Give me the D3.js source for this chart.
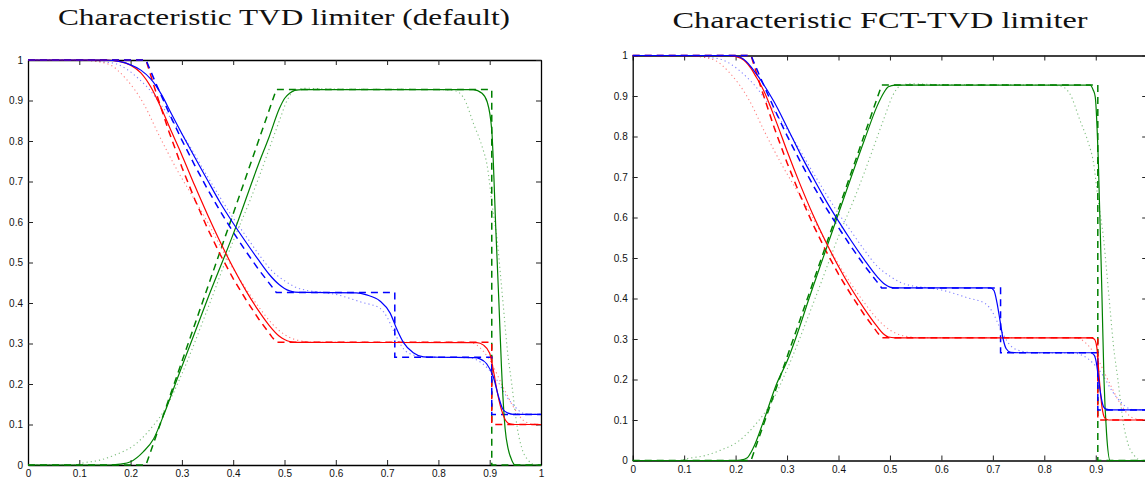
<!DOCTYPE html>
<html><head><meta charset="utf-8">
<script src="https://cdn.jsdelivr.net/npm/d3@7"></script>
<style>
html,body{margin:0;padding:0;background:#fff;}
svg{display:block;}
</style></head>
<body>
<svg id="chart" width="1145" height="482"></svg>
<script>
// ---------- data ----------
const titles = ["Characteristic TVD limiter (default)", "Characteristic FCT-TVD limiter"];
const xTicks = [0,0.1,0.2,0.3,0.4,0.5,0.6,0.7,0.8,0.9,1];
const yTicks = [0,0.1,0.2,0.3,0.4,0.5,0.6,0.7,0.8,0.9,1];
const xTickLabels = ["0","0.1","0.2","0.3","0.4","0.5","0.6","0.7","0.8","0.9","1"];
const yTickLabels = ["0","0.1","0.2","0.3","0.4","0.5","0.6","0.7","0.8","0.9","1"];

// exact solution (dashed)
const exactRho = [[0,1],[0.23,1],[0.25,0.940],[0.275,0.869],[0.3,0.802],[0.325,0.740],[0.35,0.681],[0.375,0.626],[0.4,0.575],[0.425,0.527],[0.45,0.482],[0.475,0.441],[0.484,0.426],[0.715,0.426],[0.715,0.266],[0.904,0.266],[0.904,0.125],[1,0.125]];
const exactP = [[0,1],[0.23,1],[0.25,0.918],[0.275,0.822],[0.3,0.735],[0.325,0.656],[0.35,0.584],[0.375,0.519],[0.4,0.460],[0.425,0.408],[0.45,0.360],[0.475,0.317],[0.484,0.303],[0.904,0.303],[0.904,0.1],[1,0.1]];
const exactU = [[0,0],[0.23,0],[0.484,0.927],[0.904,0.927],[0.904,0],[1,0]];

// reference scheme (dotted), same in both panels
const refRho = [[0,1],[0.1,1],[0.127,0.998],[0.15,0.995],[0.173,0.99],[0.195,0.975],[0.218,0.951],[0.24,0.922],[0.257,0.893],[0.283,0.848],[0.309,0.8],[0.35,0.712],[0.4,0.61],[0.425,0.565],[0.45,0.52],[0.475,0.48],[0.5,0.455],[0.52,0.44],[0.54,0.432],[0.57,0.427],[0.6,0.421],[0.65,0.402],[0.686,0.387],[0.7,0.365],[0.712,0.333],[0.732,0.287],[0.75,0.272],[0.78,0.266],[0.86,0.265],[0.875,0.259],[0.895,0.24],[0.914,0.21],[0.933,0.169],[0.949,0.144],[0.965,0.128],[0.98,0.125],[1,0.125]];
const refP = [[0,1],[0.1,1],[0.13,0.997],[0.16,0.988],[0.19,0.955],[0.225,0.893],[0.257,0.81],[0.29,0.73],[0.32,0.665],[0.35,0.6],[0.375,0.54],[0.4,0.485],[0.425,0.435],[0.45,0.39],[0.475,0.35],[0.5,0.322],[0.52,0.31],[0.54,0.305],[0.56,0.303],[0.86,0.303],[0.875,0.296],[0.9,0.259],[0.926,0.193],[0.946,0.144],[0.965,0.111],[0.98,0.102],[1,0.1]];
const refU = [[0,0],[0.09,0],[0.107,0.005],[0.14,0.012],[0.17,0.025],[0.205,0.047],[0.238,0.088],[0.27,0.144],[0.3,0.225],[0.35,0.385],[0.4,0.553],[0.433,0.654],[0.45,0.71],[0.47,0.78],[0.49,0.85],[0.505,0.9],[0.52,0.925],[0.54,0.93],[0.6,0.928],[0.8,0.927],[0.83,0.925],[0.849,0.907],[0.869,0.841],[0.886,0.783],[0.895,0.74],[0.905,0.64],[0.915,0.55],[0.921,0.47],[0.928,0.372],[0.934,0.289],[0.943,0.2],[0.954,0.09],[0.963,0.04],[0.975,0.012],[0.99,0],[1,0]];

// TVD limiter (solid, left)
const tvdRho = [[0,1],[0.15,1],[0.18,0.996],[0.2,0.988],[0.22,0.975],[0.24,0.952],[0.26,0.915],[0.28,0.866],[0.3,0.818],[0.325,0.76],[0.35,0.703],[0.375,0.647],[0.4,0.597],[0.425,0.55],[0.45,0.505],[0.47,0.471],[0.49,0.445],[0.5,0.436],[0.51,0.43],[0.52,0.427],[0.54,0.426],[0.64,0.425],[0.66,0.42],[0.686,0.405],[0.706,0.375],[0.719,0.335],[0.732,0.302],[0.751,0.277],[0.771,0.267],[0.8,0.266],[0.87,0.265],[0.881,0.262],[0.894,0.25],[0.907,0.218],[0.917,0.17],[0.926,0.137],[0.936,0.128],[0.946,0.125],[1,0.125]];
const tvdP = [[0,1],[0.15,1],[0.18,0.996],[0.2,0.987],[0.22,0.968],[0.24,0.932],[0.26,0.88],[0.28,0.822],[0.3,0.765],[0.325,0.69],[0.35,0.618],[0.375,0.55],[0.4,0.487],[0.425,0.43],[0.45,0.38],[0.47,0.345],[0.49,0.318],[0.5,0.31],[0.51,0.305],[0.52,0.303],[0.875,0.302],[0.888,0.296],[0.9,0.276],[0.907,0.235],[0.914,0.185],[0.923,0.136],[0.936,0.103],[0.946,0.1],[1,0.1]];
const tvdU = [[0,0],[0.16,0],[0.18,0.002],[0.2,0.008],[0.225,0.033],[0.245,0.065],[0.265,0.125],[0.29,0.21],[0.35,0.41],[0.4,0.57],[0.45,0.745],[0.47,0.81],[0.49,0.88],[0.5,0.905],[0.51,0.918],[0.52,0.925],[0.535,0.927],[0.868,0.927],[0.885,0.918],[0.895,0.897],[0.904,0.827],[0.912,0.58],[0.918,0.4],[0.923,0.24],[0.93,0.09],[0.936,0.04],[0.943,0.012],[0.95,0],[1,0]];

// FCT-TVD limiter (solid, right)
const fctRho = [[0,1],[0.19,1],[0.2,0.999],[0.21,0.995],[0.22,0.986],[0.23,0.972],[0.24,0.955],[0.25,0.937],[0.275,0.885],[0.3,0.823],[0.325,0.759],[0.35,0.70],[0.375,0.643],[0.4,0.591],[0.425,0.542],[0.45,0.496],[0.475,0.454],[0.49,0.435],[0.5,0.428],[0.51,0.426],[0.695,0.426],[0.702,0.42],[0.708,0.39],[0.714,0.345],[0.72,0.3],[0.726,0.276],[0.735,0.267],[0.75,0.266],[0.89,0.266],[0.897,0.26],[0.902,0.235],[0.906,0.195],[0.91,0.16],[0.915,0.133],[0.92,0.127],[0.93,0.125],[1,0.125]];
const fctP = [[0,1],[0.19,1],[0.2,0.998],[0.21,0.993],[0.22,0.984],[0.23,0.968],[0.24,0.947],[0.254,0.915],[0.28,0.833],[0.3,0.764],[0.325,0.683],[0.35,0.608],[0.375,0.541],[0.4,0.479],[0.425,0.424],[0.45,0.375],[0.475,0.331],[0.487,0.313],[0.497,0.305],[0.51,0.303],[0.89,0.303],[0.897,0.3],[0.902,0.28],[0.907,0.2],[0.912,0.133],[0.918,0.104],[0.925,0.1],[1,0.1]];
const fctU = [[0,0],[0.2,0],[0.21,0.001],[0.222,0.006],[0.234,0.03],[0.254,0.096],[0.28,0.19],[0.3,0.245],[0.35,0.427],[0.4,0.61],[0.45,0.79],[0.475,0.875],[0.488,0.908],[0.497,0.923],[0.51,0.927],[0.889,0.927],[0.895,0.915],[0.899,0.898],[0.905,0.74],[0.912,0.41],[0.916,0.2],[0.921,0.067],[0.928,0],[1,0]];

// ---------- drawing ----------
const colors = {rho:"#0000ff", p:"#ff0000", u:"#008000"};
const svg = d3.select("#chart");

const panels = [
  {title: titles[0], titleX: 284, titleY: 25, titleW: 452, x0: 28, x1: 541, y0: 465, y1: 60,
   solid: {rho: tvdRho, p: tvdP, u: tvdU}},
  {title: titles[1], titleX: 880, titleY: 28, titleW: 415, x0: 632.7, x1: 1147.2, y0: 460.5, y1: 55.5,
   solid: {rho: fctRho, p: fctP, u: fctU}}
];

const exact = {rho: exactRho, p: exactP, u: exactU};
const ref = {rho: refRho, p: refP, u: refU};

panels.forEach(pn => {
  const x = d3.scaleLinear().domain([0,1]).range([pn.x0, pn.x1]);
  const y = d3.scaleLinear().domain([0,1]).range([pn.y0, pn.y1]);
  const g = svg.append("g");

  g.append("text").attr("x", pn.titleX).attr("y", pn.titleY)
    .attr("text-anchor","middle")
    .attr("font-family","'Liberation Serif','DejaVu Serif',serif")
    .attr("font-size", 23)
    .attr("textLength", pn.titleW).attr("lengthAdjust","spacingAndGlyphs")
    .attr("fill","#111")
    .text(pn.title);

  const fmtX = (d,i) => xTickLabels[i];
  const fmtY = (d,i) => yTickLabels[i];

  const ax = [
    g.append("g").attr("transform",`translate(0,${pn.y0})`)
      .call(d3.axisBottom(x).tickValues(xTicks).tickFormat(fmtX).tickSizeInner(-5).tickSizeOuter(0).tickPadding(5)),
    g.append("g").attr("transform",`translate(0,${pn.y1})`)
      .call(d3.axisTop(x).tickValues(xTicks).tickFormat("").tickSizeInner(-5).tickSizeOuter(0)),
    g.append("g").attr("transform",`translate(${pn.x0},0)`)
      .call(d3.axisLeft(y).tickValues(yTicks).tickFormat(fmtY).tickSizeInner(-5).tickSizeOuter(0).tickPadding(5)),
    g.append("g").attr("transform",`translate(${pn.x1},0)`)
      .call(d3.axisRight(y).tickValues(yTicks).tickFormat("").tickSizeInner(-5).tickSizeOuter(0))
  ];
  ax.forEach(a => {
    a.selectAll(".domain").attr("stroke","#000").attr("stroke-width",1.3);
    a.selectAll(".tick line").attr("stroke","#222").attr("stroke-width",1);
    a.selectAll("text").attr("font-family","'Liberation Sans',Arial,sans-serif").attr("font-size",10).attr("fill","#111");
  });

  const lineSmooth = d3.line().x(d => x(d[0])).y(d => y(d[1])).curve(d3.curveMonotoneX);
  const lineLin = d3.line().x(d => x(d[0])).y(d => y(d[1]));

  ["rho","p","u"].forEach(k => {
    g.append("path").attr("d", lineSmooth(ref[k]))
      .attr("fill","none").attr("stroke", colors[k]).attr("stroke-width",1.1)
      .attr("stroke-opacity",0.5).attr("stroke-dasharray","1.2,3");
  });
  ["u","p","rho"].forEach(k => {
    g.append("path").attr("d", lineLin(exact[k]))
      .attr("fill","none").attr("stroke", colors[k]).attr("stroke-width",1.5)
      .attr("stroke-dasharray","7,5");
  });
  ["u","p","rho"].forEach(k => {
    g.append("path").attr("d", lineSmooth(pn.solid[k]))
      .attr("fill","none").attr("stroke", colors[k]).attr("stroke-width",1.2);
  });
});
</script>
</body></html>
